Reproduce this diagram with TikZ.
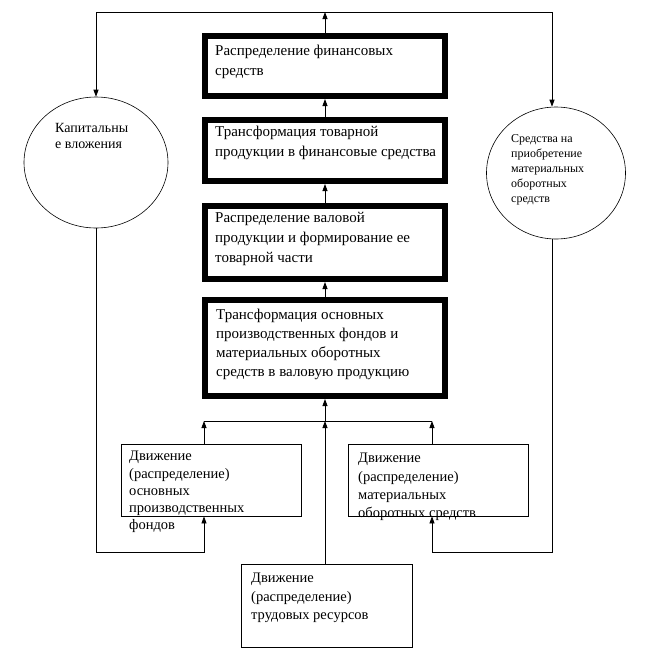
\documentclass[tikz,border=0pt]{standalone}
\usepackage{fontspec}
\setmainfont{Liberation Serif}
\usetikzlibrary{arrows.meta,shapes.geometric}
\begin{document}
\begin{tikzpicture}[x=1pt,y=-1pt,
  thickbox/.style={draw,rectangle,line width=6pt,inner sep=0pt},
  thinbox/.style={draw,rectangle,line width=0.8pt,inner sep=0pt},
  oval/.style={draw,ellipse,line width=0.6pt,inner sep=0pt},
  txt/.style={anchor=north west,inner sep=0pt,align=left},
  bigtxt/.style={txt,font=\fontsize{15}{20}\selectfont},
  midtxt/.style={txt,font=\fontsize{14.5}{18.3}\selectfont},
  link/.style={line width=0.8pt},
  arr/.style={link,-{Triangle[length=7pt,width=5pt]}}
]
\useasboundingbox (0,0) rectangle (649,649);
% thick central boxes
\node[thickbox,minimum width=240pt,minimum height=60pt] (b1) at (325,66) {};
\node[thickbox,minimum width=240pt,minimum height=61pt] (b2) at (325,150.5) {};
\node[thickbox,minimum width=240pt,minimum height=73pt] (b3) at (325,242.5) {};
\node[thickbox,minimum width=240pt,minimum height=96pt] (b4) at (325,348) {};
% thin boxes
\node[thinbox,minimum width=180pt,minimum height=72pt] (lb) at (211,480) {};
\node[thinbox,minimum width=180pt,minimum height=72pt] (rb) at (438,480) {};
\node[thinbox,minimum width=171pt,minimum height=83pt] (bb) at (326.5,605.5) {};
% ovals
\node[oval,minimum width=144pt,minimum height=131pt] (lc) at (96,162.5) {};
\node[oval,minimum width=139pt,minimum height=132pt] (rc) at (556,173) {};
% texts
\node[bigtxt] (t1) at (215,45) {Распределение финансовых\\средств};
\node[bigtxt] (t2) at (215,126) {Трансформация товарной\\продукции в финансовые средства};
\node[bigtxt] (t3) at (215,212) {Распределение валовой\\продукции и формирование ее\\товарной части};
\node[txt,font=\fontsize{15}{19}\selectfont] (t4) at (216,309) {Трансформация основных\\производственных фондов и\\материальных оборотных\\средств в валовую продукцию};
\node[txt,font=\fontsize{14.5}{17.3}\selectfont] (tl) at (129,451) {Движение\\(распределение)\\основных\\производственных\\фондов};
\node[midtxt] (tr) at (358,453) {Движение\\(распределение)\\материальных\\оборотных средств};
\node[midtxt] (tb) at (251,573) {Движение\\(распределение)\\трудовых ресурсов};
\node[txt,font=\fontsize{14}{16}\selectfont] (tlc) at (55,123) {Капитальны\\е вложения};
\node[txt,font=\fontsize{12}{15}\selectfont] (trc) at (511,134) {Средства на\\приобретение\\материальных\\оборотных\\средств};
% coordinates
\coordinate (top) at (325,12);
\coordinate (topl) at (96,12);
\coordinate (topr) at (552,12);
\coordinate (busl) at (204,421);
\coordinate (busc) at (325,421);
\coordinate (busr) at (432,421);
\coordinate (fl) at (204,552);
\coordinate (fr) at (432,552);
\coordinate (rline) at (552,552);
% connectors
\draw[arr] (b2.north) -- (b1.south);
\draw[arr] (b3.north) -- (b2.south);
\draw[arr] (b4.north) -- (b3.south);
\draw[arr] (b1.north) -- (top);
\draw[link] (topl) -- (topr);
\draw[arr] (topl) -- (lc.north);
\draw[arr] (topr) -- (topr |- rc.north);
\draw[link] (busl) -- (busr);
\draw[arr] (busc) -- (b4.south);
\draw[arr] (bb.north -| busc) -- (busc);
\draw[arr] (lb.north -| busl) -- (busl);
\draw[arr] (rb.north -| busr) -- (busr);
\draw[arr] (lc.south) |- (fl) -- (lb.south -| fl);
\draw[arr] (rline |- rc.south) -- (rline) -- (fr) -- (rb.south -| fr);
\end{tikzpicture}
\end{document}
